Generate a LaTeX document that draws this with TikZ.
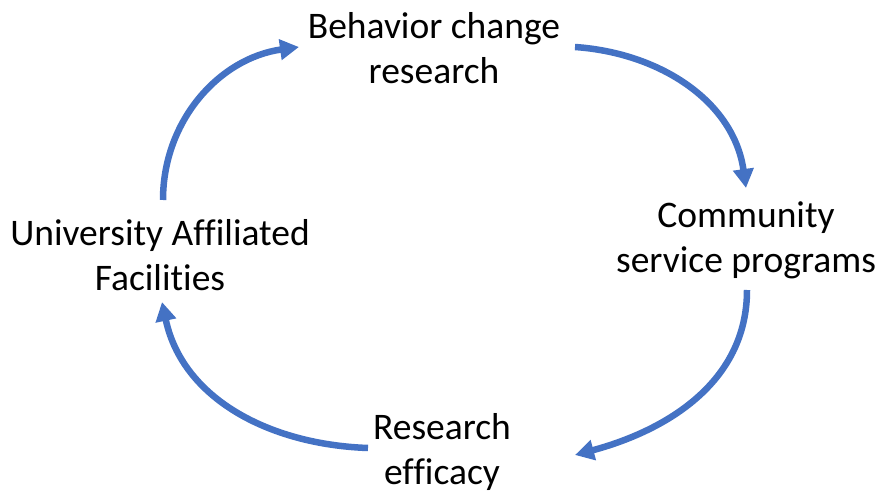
\documentclass[tikz,border=0pt]{standalone}
\usepackage{fontspec}
\setmainfont[Ligatures=NoCommon]{Carlito}
\usetikzlibrary{arrows.meta}
\usetikzlibrary{positioning}
\definecolor{cycleblue}{HTML}{4472C4}

\tikzset{
  stage/.style={align=center, font=\fontsize{37.5}{45}\selectfont, inner sep=0pt},
  cyclearrow/.style={color=cycleblue, line width=6.5pt, -{Triangle[length=19pt,width=20pt]}}
}

\begin{document}
\begin{tikzpicture}[x=1pt, y=-1pt]
\useasboundingbox (0,0) rectangle (881,494);

% stages
\node[stage] (beh) at (434,48) {Behavior change\\research};
\node[stage] (com) at (746,240) {Community\\service programs};
\node[stage] (uni) at (160,255) {University Affiliated\\Facilities};
\node[stage] (res) at (442,452) {Research\\efficacy};

% arrow ends
\coordinate (a1) at (575,47);
\coordinate (b1) at (746,188);
\coordinate (a2) at (747,290);
\coordinate (b2) at (575,455);
\coordinate (a3) at (368,448);
\coordinate (b3) at (162,302);
\coordinate (a4) at (163,200);
\coordinate (b4) at (299,47);

% cycle
\draw[cyclearrow] (a1) to[out=-4, in=98] (b1);
\draw[cyclearrow] (a2) to[out=-90, in=15] (b2);
\draw[cyclearrow] (a3) to[out=178, in=-78] (b3);
\draw[cyclearrow] (a4) to[out=90, in=188] (b4);
\end{tikzpicture}
\end{document}
